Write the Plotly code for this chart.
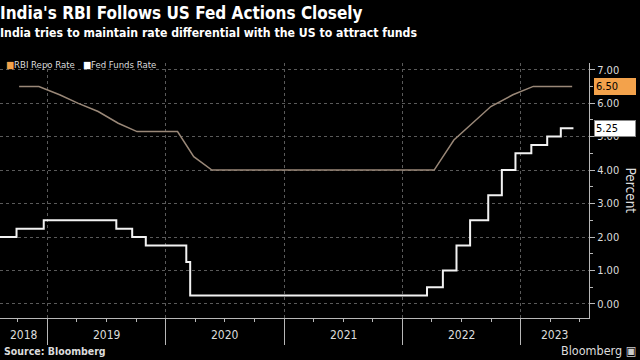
import plotly.graph_objects as go
import pandas as pd

# ---- data ----
fed_dates = ['2018-08-07', '2018-09-27', '2018-12-20', '2019-08-01', '2019-09-19', '2019-10-31',
             '2020-03-04', '2020-03-16', '2022-03-17', '2022-05-05', '2022-06-16', '2022-07-28',
             '2022-09-22', '2022-11-03', '2022-12-15', '2023-02-02', '2023-03-23', '2023-05-04',
             '2023-06-12']
fed_vals = [2.00, 2.25, 2.50, 2.25, 2.00, 1.75,
            1.25, 0.25, 0.50, 1.00, 1.75, 2.50,
            3.25, 4.00, 4.50, 4.75, 5.00, 5.25,
            5.25]

rbi_dates = ['2018-10-05', '2018-12-05', '2019-02-07', '2019-04-04', '2019-06-06', '2019-08-07',
             '2019-10-04', '2019-12-05', '2020-02-06', '2020-03-27', '2020-05-22', '2020-08-06',
             '2020-10-09', '2020-12-04', '2021-02-05', '2021-04-07', '2021-06-04', '2021-08-06',
             '2021-10-08', '2021-12-08', '2022-02-10', '2022-04-08', '2022-06-08', '2022-08-05',
             '2022-09-30', '2022-12-07', '2023-02-08', '2023-04-06', '2023-06-08']
rbi_vals = [6.50, 6.50, 6.25, 6.00, 5.75, 5.40,
            5.15, 5.15, 5.15, 4.40, 4.00, 4.00,
            4.00, 4.00, 4.00, 4.00, 4.00, 4.00,
            4.00, 4.00, 4.00, 4.00, 4.90, 5.40,
            5.90, 6.25, 6.50, 6.50, 6.50]

year_labels = ['2018', '2019', '2020', '2021', '2022', '2023']
y_ticks = [0, 1, 2, 3, 4, 5, 6, 7]
x_range = ['2018-08-07', '2023-07-30']
y_range = [-0.42, 7.2]

title = "India's RBI Follows US Fed Actions Closely"
subtitle = "India tries to maintain rate differential with the US to attract funds"

FONT = "DejaVu Sans Condensed, Liberation Sans, sans-serif"
ORANGE = "#f3a24b"
RBI_LINE = "#9a8878"
FED_LINE = "#f2f2f2"
AXIS = "#b8b8b8"
GRID = "#5a5a5a"
TEXT = "#dcdcdc"

fig = go.Figure()
fig.add_trace(go.Scatter(x=pd.to_datetime(rbi_dates), y=rbi_vals, mode='lines',
                         line=dict(color=RBI_LINE, width=1.5), name='RBI Repo Rate',
                         showlegend=False))
fig.add_trace(go.Scatter(x=pd.to_datetime(fed_dates), y=fed_vals, mode='lines',
                         line=dict(color=FED_LINE, width=2, shape='hv'), name='Fed Funds Rate',
                         showlegend=False))

fig.update_layout(
    width=640, height=360,
    paper_bgcolor='black', plot_bgcolor='black',
    margin=dict(l=0, r=51, t=63, b=42),
    font=dict(family=FONT, color=TEXT, size=12),
    showlegend=False,
)

fig.update_xaxes(
    type='date', range=x_range,
    showline=True, linecolor=AXIS, linewidth=1,
    tick0='2018-01-01', dtick='M12', ticks='outside', ticklen=26, tickcolor=AXIS, tickwidth=1,
    showticklabels=False,
    showgrid=True, gridcolor=GRID, griddash='dot', gridwidth=1,
    minor=dict(tick0='2018-01-01', dtick='M3', ticks='outside', ticklen=3, tickcolor=AXIS,
               showgrid=False),
    zeroline=False,
)
fig.update_yaxes(
    side='right', range=y_range,
    showline=True, linecolor=AXIS, linewidth=1,
    tickvals=y_ticks, ticktext=[f"{v:.2f}" for v in y_ticks],
    ticks='outside', ticklen=5, tickcolor=AXIS,
    tickfont=dict(size=11, color=TEXT, family=FONT),
    showgrid=True, gridcolor=GRID, griddash='dot', gridwidth=1,
    minor=dict(dtick=0.5, tick0=0, ticks='outside', ticklen=3, tickcolor=AXIS, showgrid=False),
    zeroline=False,
)

# year labels centred in the visible part of each year
xs = pd.to_datetime(x_range[0])
xe = pd.to_datetime(x_range[1])
for lab in year_labels:
    a = max(pd.Timestamp(f"{lab}-01-01"), xs)
    b = min(pd.Timestamp(f"{int(lab)+1}-01-01"), xe)
    mid = a + (b - a) / 2
    fig.add_annotation(x=mid, y=0, xref='x', yref='paper', yshift=-17, text=lab,
                       showarrow=False, font=dict(size=12, color=TEXT, family=FONT),
                       yanchor='middle')

# titles
fig.add_annotation(x=0, y=1, xref='paper', yref='paper', xanchor='left', yanchor='top',
                   xshift=-2, yshift=62, text=f"<b>{title}</b>", showarrow=False,
                   font=dict(size=17, color='white', family=FONT))
fig.add_annotation(x=0, y=1, xref='paper', yref='paper', xanchor='left', yanchor='top',
                   xshift=-2, yshift=39, text=f"<b>{subtitle}</b>", showarrow=False,
                   font=dict(size=12.2, color='white', family=FONT))
# legend
fig.add_annotation(x=0, y=1, xref='paper', yref='paper', xanchor='left', yanchor='top',
                   xshift=4, yshift=6,
                   text=(f"<span style='color:{ORANGE}'>■</span>RBI Repo Rate"
                         f"   <span style='color:white'>■</span>Fed Funds Rate"),
                   showarrow=False, font=dict(size=9.5, color=TEXT, family=FONT))

# last value labels
fig.add_annotation(x=1, y=rbi_vals[-1], xref='paper', yref='y', xanchor='left', yanchor='middle',
                   xshift=5, text=f"{rbi_vals[-1]:.2f}", showarrow=False,
                   bgcolor=ORANGE, bordercolor=ORANGE, borderpad=1, width=38, align='left',
                   font=dict(size=11, color='black', family=FONT))
fig.add_annotation(x=1, y=fed_vals[-1], xref='paper', yref='y', xanchor='left', yanchor='middle',
                   xshift=5, text=f"{fed_vals[-1]:.2f}", showarrow=False,
                   bgcolor='white', bordercolor='#888888', borderpad=1, width=38, align='left',
                   font=dict(size=11, color='black', family=FONT))

# y-axis title
fig.add_annotation(x=1, y=0.5, xref='paper', yref='paper', xanchor='center', yanchor='middle',
                   xshift=42, yshift=0, text="Percent", textangle=90, showarrow=False,
                   font=dict(size=13.5, color=TEXT, family=FONT))

# footer
fig.add_annotation(x=0, y=0, xref='paper', yref='paper', xanchor='left', yanchor='bottom',
                   xshift=2, yshift=-41, text="<b>Source: Bloomberg</b>", showarrow=False,
                   font=dict(size=10.5, color=TEXT, family=FONT))
fig.add_annotation(x=1, y=0, xref='paper', yref='paper', xanchor='right', yanchor='bottom',
                   xshift=49, yshift=-42, text="Bloomberg <span style='color:#cccccc'>▣</span>",
                   showarrow=False, font=dict(size=12.5, color=TEXT, family=FONT))

fig.write_html("out.html", config={'displayModeBar': False},
               post_script="document.body.style.margin='0';")
